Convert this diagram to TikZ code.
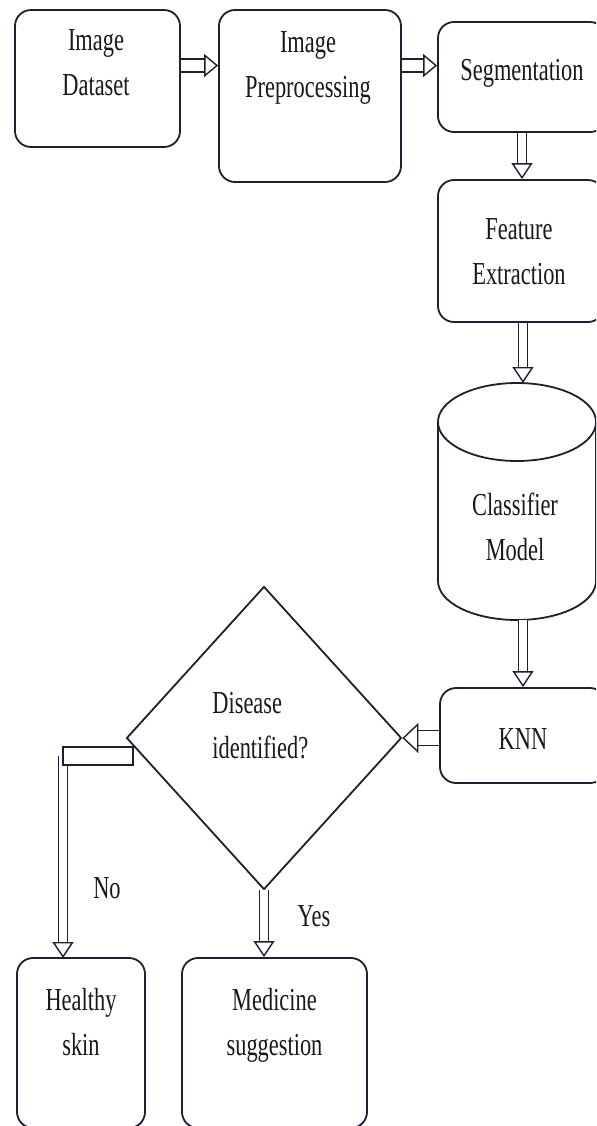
\documentclass[tikz,border=0pt]{standalone}
\usepackage{fontspec}
\setmainfont{Liberation Serif}
\usepackage{graphicx}
\usetikzlibrary{arrows.meta,shapes.geometric,calc}
\definecolor{lc}{RGB}{28,32,48}
\definecolor{tc}{RGB}{25,25,25}
\newcommand\tf{\fontsize{16}{22.5}\selectfont}
\newcommand\sq[1]{\scalebox{0.7}[1]{\begin{tabular}{@{}c@{}}#1\end{tabular}}}
\newcommand\sql[1]{\scalebox{0.7}[1]{\begin{tabular}{@{}l@{}}#1\end{tabular}}}
\begin{document}
\begin{tikzpicture}[x=0.5pt,y=-0.5pt,
 box/.style={draw=lc, line width=0.9pt, rounded corners=8pt, fill=white, inner sep=0pt},
 conn/.style={draw=lc, line width=0.7pt, double=white, double distance=3.8pt, -{Triangle[open,length=8pt,width=10.5pt]}},
 connh/.style={conn, double distance=5.8pt, -{Triangle[open,length=7pt,width=11.5pt]}},
 connk/.style={conn, double distance=7pt, -{Triangle[open,length=8pt,width=15pt]}},
 lbl/.style={text=tc, font=\tf, inner sep=0pt},
 shp/.style={draw=lc, line width=0.9pt, fill=white}]
\useasboundingbox (0,0) rectangle (596,1126);
\fill[white] (0,0) rectangle (596,1126);
\clip (0,0) rectangle (596,1126);

\node[box, minimum width=82.5pt, minimum height=68.5pt] (ds) at (97.5,78.5) {};
\node[lbl] (dst) at (96,64) {\sq{Image\\Dataset}};
\node[box, minimum width=91pt, minimum height=86pt] (pp) at (310,96) {};
\node[lbl] (ppt) at (308,66) {\sq{Image\\Preprocessing}};
\node[box, minimum width=84pt, minimum height=55pt] (seg) at (522,77) {};
\node[lbl] (segt) at (522,71) {\sq{Segmentation}};
\node[box, minimum width=83pt, minimum height=71pt] (fe) at (521,251) {};
\node[lbl] (fet) at (519,253) {\sq{Feature\\Extraction}};

\draw[shp] (438,422) -- (438,581) arc[start angle=180, end angle=0, x radius=79, y radius=39] -- (596,422);
\draw[shp] (517,422) ellipse [x radius=79, y radius=39];
\node[lbl] (clf) at (515,529) {\sq{Classifier\\Model}};
\coordinate (ct) at (523,383);
\coordinate (cbm) at (523,620);

\node[box, minimum width=83pt, minimum height=47.5pt] (knn) at (523,735.5) {};
\node[lbl] (knnt) at (523,740) {\sq{KNN}};

\coordinate (nb1) at (63,747);
\coordinate (nb2) at (133,765);
\coordinate (nc) at (63,756);
\draw[conn] (nc) -- (nc |- 0,958);
\draw[shp, line width=0.7pt] (nb1) rectangle (nb2);

\node[diamond, draw=lc, line width=0.9pt, fill=white, minimum width=137.5pt, minimum height=151.5pt, inner sep=0pt] (dia) at (264,738) {};
\node[lbl, anchor=west] (diat) at (212,727) {\sql{Disease\\identified?}};

\node[box, minimum width=64pt, minimum height=85pt] (hs) at (81,1043) {};
\node[lbl] (hst) at (81,1024) {\sq{Healthy\\skin}};
\node[box, minimum width=92.5pt, minimum height=85pt] (med) at (274.5,1043) {};
\node[lbl] (medt) at (274.5,1024) {\sq{Medicine\\suggestion}};
\node[lbl] (no) at (107,889) {\sq{No}};
\node[lbl] (yes) at (314,917) {\sq{Yes}};

\coordinate (r1) at (0,65.5);
\draw[connh] (ds.east |- r1) -- (pp.west |- r1);
\draw[connh] (pp.east |- r1) -- (seg.west |- r1);
\draw[conn] (seg.south) -- (seg.south |- fe.north);
\draw[conn] (fe.south -| ct) -- (ct);
\draw[conn] (cbm) -- (knn.north -| cbm);
\draw[connk] (knn.west |- dia.east) -- (dia.east);
\draw[conn] (dia.south) -- (med.north -| dia.south);
\end{tikzpicture}
\end{document}
